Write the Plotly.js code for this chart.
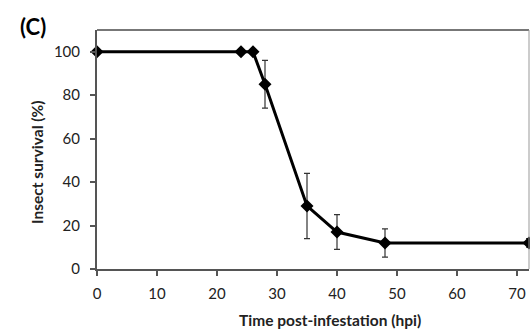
<!DOCTYPE html>
<html><head><meta charset="utf-8">
<script src="https://cdn.plot.ly/plotly-3.0.1.min.js"></script>
<style>body{margin:0;background:#fff}#c{width:530px;height:336px}</style>
</head><body><div id="c"></div>
<script>
const timeHpi = [0, 24, 26, 28, 35, 40, 48, 72];
const survival = [100, 100, 100, 85, 29, 17, 12, 12];
const errorBars = [0, 0, 0, 11, 15, 8, 6.5, 2];
const xTicks = [0, 10, 20, 30, 40, 50, 60, 70];
const yTicks = [0, 20, 40, 60, 80, 100];

const W = 432, H = 239, L = 97, T = 30;
const px = x => (x - L) / W;
const py = y => (T + H - y) / H;

const trace = {
  x: timeHpi, y: survival, type: 'scatter', mode: 'lines+markers',
  line: {color: '#000', width: 3},
  marker: {symbol: 'diamond', size: 10, color: '#000'},
  error_y: {type: 'data', array: errorBars, visible: true, color: '#333', thickness: 1.2, width: 3},
  cliponaxis: false
};
const layout = {
  width: 530, height: 336,
  margin: {l: L, r: 1, t: T, b: 67},
  paper_bgcolor: '#fff', plot_bgcolor: '#fff',
  font: {family: 'Lato, "Open Sans", sans-serif', color: '#222'},
  showlegend: false,
  xaxis: {
    range: [0, 72], tickvals: xTicks, ticktext: xTicks.map(String),
    showgrid: false, zeroline: false, showline: true, linecolor: '#555', linewidth: 2,
    ticks: 'outside', ticklen: 5, tickcolor: '#555', tickwidth: 2,
    ticklabelstandoff: 5,
    tickfont: {size: 15, color: '#222'}
  },
  yaxis: {
    range: [0, 110], tickvals: yTicks, ticktext: yTicks.map(String),
    showgrid: false, zeroline: false, showline: true, linecolor: '#555', linewidth: 2,
    ticks: 'outside', ticklen: 5, tickcolor: '#555', tickwidth: 2,
    ticklabelstandoff: 7,
    tickfont: {size: 15, color: '#222'}
  },
  shapes: [
    {type: 'line', xref: 'paper', yref: 'paper', x0: 0, x1: 1, y0: 1, y1: 1, line: {color: '#777', width: 2}},
    {type: 'line', xref: 'paper', yref: 'paper', x0: 1, x1: 1, y0: 0, y1: 1, line: {color: '#999', width: 1}}
  ],
  annotations: [
    {text: '<b>(C)</b>', xref: 'paper', yref: 'paper', x: px(33), y: py(27), xanchor: 'center', yanchor: 'middle',
     showarrow: false, font: {size: 22, color: '#000'}},
    {text: '<b>Time post-infestation (hpi)</b>', xref: 'paper', yref: 'paper', x: px(330), y: py(320),
     xanchor: 'center', yanchor: 'middle', showarrow: false, font: {size: 15.5, color: '#222'}},
    {text: '<b>Insect survival (%)</b>', xref: 'paper', yref: 'paper', x: px(37), y: py(163),
     xanchor: 'center', yanchor: 'middle', textangle: -90, showarrow: false, font: {size: 15.5, color: '#222'}}
  ]
};
Plotly.newPlot('c', [trace], layout, {displayModeBar: false, staticPlot: true});
</script></body></html>
